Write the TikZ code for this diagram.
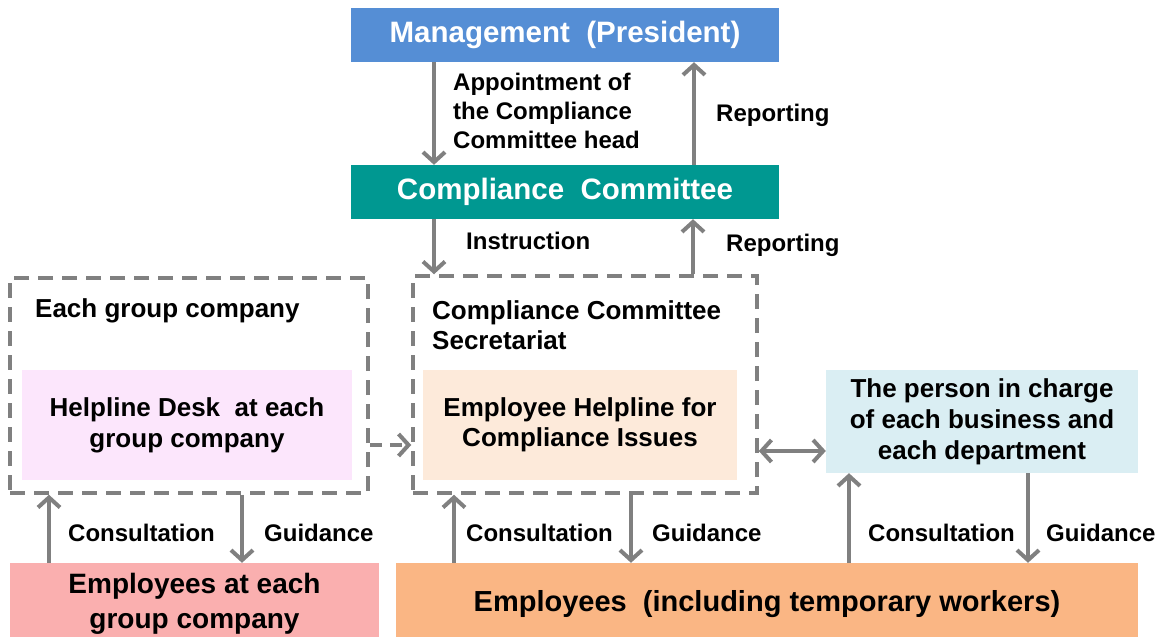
\documentclass[tikz,border=0pt]{standalone}
\usepackage{fontspec}
\setmainfont{Liberation Sans}
\usetikzlibrary{arrows.meta}
\definecolor{mgmt}{RGB}{85,142,213}
\definecolor{teal2}{RGB}{0,152,145}
\definecolor{pinkA}{RGB}{252,230,252}
\definecolor{peach}{RGB}{253,234,218}
\definecolor{lblue}{RGB}{218,238,243}
\definecolor{pinkB}{RGB}{250,175,175}
\definecolor{orng}{RGB}{250,182,132}
\definecolor{arr}{RGB}{128,128,128}
\tikzset{
  fs/.style={font=\bfseries\fontsize{#1}{#1}\selectfont},
  box/.style={draw=none, inner sep=0pt, align=center},
  dbox/.style={draw=arr, line width=3.5pt, dash pattern=on 15pt off 9pt, inner sep=0pt},
  con/.style={draw=arr, line width=4pt, -{Straight Barb[length=10pt,width=22pt,line width=4pt]}},
  dcon/.style={con, dash pattern=on 12pt off 8pt},
  bicon/.style={draw=arr, line width=4pt, {Straight Barb[length=10pt,width=22pt,line width=4pt]}-{Straight Barb[length=10pt,width=22pt,line width=4pt]}},
  lab/.style={inner sep=0pt, anchor=west, align=left, fs=24}
}
\begin{document}
\begin{tikzpicture}[x=1pt,y=-1pt]
\useasboundingbox (0,0) rectangle (1167,637);
% boxes
\node[box, fill=mgmt, text=white, minimum width=428pt, minimum height=54pt, fs=29.5] (mg) at (565,35) {\raisebox{-2pt}{Management~~(President)}};
\node[box, fill=teal2, text=white, minimum width=428pt, minimum height=54pt, fs=29.5] (cc) at (565,192) {\raisebox{-2pt}{Compliance~~Committee}};
\node[dbox, minimum width=358pt, minimum height=215pt] (lg) at (189,385.5) {};
\node[dbox, minimum width=344pt, minimum height=217pt] (ms) at (585,384.5) {};
\node[inner sep=0pt, anchor=west, fs=26] (lgt) at (35,311) {Each group company};
\node[inner sep=0pt, anchor=west, align=left, fs=26] (mst) at (432,325) {Compliance Committee\\[4pt]Secretariat};
\node[box, fill=pinkA, minimum width=330pt, minimum height=110pt, fs=26] (hd) at (187,425) {Helpline Desk~~at each\\[5pt]group company};
\node[box, fill=peach, minimum width=314pt, minimum height=110pt, fs=26] (eh) at (580,425) {Employee Helpline for\\[4pt]Compliance Issues};
\node[box, fill=lblue, minimum width=312pt, minimum height=103pt, fs=26] (pc) at (982,421.5) {The person in charge\\[5pt]of each business and\\[5pt]each department};
\node[box, fill=pinkB, minimum width=369pt, minimum height=82pt, fs=28] (eg) at (194.5,604) {Employees at each\\[7pt]group company};
\node[box, fill=orng, minimum width=742pt, minimum height=82pt, fs=29] (em) at (767,604) {Employees~~(including temporary workers)};
% connectors top
\draw[con] (434,0 |- mg.south) -- (434,0 |- cc.north);
\draw[con] (694,0 |- cc.north) -- (694,0 |- mg.south);
\node[lab] at (453,111) {Appointment of\\[5pt]the Compliance\\[5pt]Committee head};
\node[lab] at (716,115) {Reporting};
\draw[con] (434,0 |- cc.south) -- (434,0 |- ms.north);
\draw[con] (693,0 |- ms.north) -- (693,0 |- cc.south);
\node[lab] at (466,241) {Instruction};
\node[lab] at (726,245) {Reporting};
% middle connectors
\draw[dcon] (lg.east |- 0,445) -- (ms.west |- 0,445);
\draw[bicon] (ms.east |- 0,451) -- (pc.west |- 0,451);
% bottom connectors
\draw[con] (49,0 |- eg.north) -- (49,0 |- lg.south);
\draw[con] (242,0 |- lg.south) -- (242,0 |- eg.north);
\node[lab] at (68,533) {Consultation};
\node[lab] at (264,533) {Guidance};
\draw[con] (454,0 |- em.north) -- (454,0 |- ms.south);
\draw[con] (631,0 |- ms.south) -- (631,0 |- em.north);
\node[lab] at (466,533) {Consultation};
\node[lab] at (652,533) {Guidance};
\draw[con] (849,0 |- em.north) -- (849,0 |- pc.south);
\draw[con] (1028,0 |- pc.south) -- (1028,0 |- em.north);
\node[lab] at (868,533) {Consultation};
\node[lab] at (1046,533) {Guidance};
\end{tikzpicture}
\end{document}
